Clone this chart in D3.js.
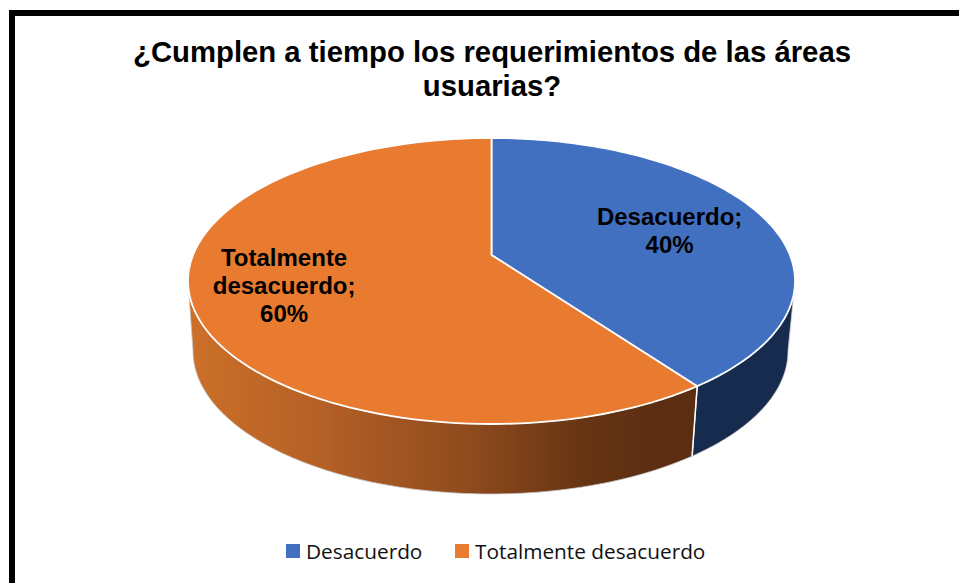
<!DOCTYPE html>
<html><head><meta charset="utf-8">
<style>html,body{margin:0;padding:0;background:#fff;overflow:hidden}svg{display:block}</style>
<script src="https://cdn.jsdelivr.net/npm/d3@7/dist/d3.min.js"></script>
</head><body>
<svg id="c" width="959" height="583"></svg>
<script>
const categories = ["Desacuerdo", "Totalmente desacuerdo"];
const values = [40, 60];
const labelLines = [["Desacuerdo;", "40%"], ["Totalmente", "desacuerdo;", "60%"]];
const titleLines = ["¿Cumplen a tiempo los requerimientos de las áreas", "usuarias?"];
const topColors = ["#4270c1", "#e97b30"];

const svg = d3.select("#c");
const W = 959, H = 583;
svg.append("rect").attr("width", W).attr("height", H).attr("fill", "#fff");
// frame (open at right and bottom edges of the crop)
svg.append("rect").attr("x", 12).attr("y", 13).attr("width", W + 20).attr("height", H + 20)
  .attr("fill", "none").attr("stroke", "#000").attr("stroke-width", 6);

// title
svg.append("g").selectAll("text").data(titleLines).join("text")
  .attr("x", 492).attr("y", (d, i) => 62 + i * 33.5)
  .attr("text-anchor", "middle")
  .attr("font-family", "'Liberation Sans', Arial, sans-serif")
  .attr("font-weight", "bold").attr("font-size", 29.3).attr("fill", "#000")
  .text(d => d);

// perspective projection of the pie disc
const k = 0.182, s = Math.sqrt(1 - k * k);
const xTop = d3.scaleLinear().domain([-1, 1]).range([188, 795]);
const yTop = d3.scaleLinear().domain([-1, 1]).range([424, 138]);
const xBot = d3.scaleLinear().domain([-1, 1]).range([193, 788]);
const yBot = d3.scaleLinear().domain([-1, 1]).range([494, 208]);
function proj(theta, r = 1) {
  const X = r * Math.sin(theta), Y = r * Math.cos(theta), den = 1 + k * Y;
  return [s * X / den, (Y + k) / den];
}
const onTop = (t, r = 1) => { const p = proj(t, r); return [xTop(p[0]), yTop(p[1])]; };
const onBot = (t) => { const p = proj(t); return [xBot(p[0]), yBot(p[1])]; };

const arcs = d3.pie().sort(null)(values);
const line = d3.line();
const samples = (a, b) => d3.range(0, 121).map(i => a + (b - a) * i / 120);

// silhouette angles: where the projected rim reaches its extreme x
const all = d3.range(0, 1441).map(i => i / 1440 * 2 * Math.PI);
const thR = all[d3.greatestIndex(all, t => proj(t)[0])];
const thL = all[d3.leastIndex(all, t => proj(t)[0])];

// gradient for the orange wall
const defs = svg.append("defs");
const grad = defs.append("linearGradient").attr("id", "wall")
  .attr("gradientUnits", "userSpaceOnUse").attr("x1", 190).attr("x2", 650).attr("y1", 0).attr("y2", 0);
[[0, "#cc7029"], [0.3, "#b35f26"], [0.6, "#8f4b1d"], [0.85, "#683514"], [1, "#5c2e11"]]
  .forEach(([o, c]) => grad.append("stop").attr("offset", o).attr("stop-color", c));
const wallFill = ["#172b4f", "url(#wall)"];

// walls
const walls = svg.append("g");
arcs.forEach((a, i) => {
  const from = Math.max(a.startAngle, thR), to = Math.min(a.endAngle, thL);
  if (to <= from) return;
  const pts = samples(from, to).map(t => onTop(t)).concat(samples(to, from).map(onBot));
  walls.append("path").attr("d", line(pts) + "Z").attr("fill", wallFill[i])
    .attr("stroke", "#c9c9c9").attr("stroke-width", 0.8);
});
// divider on the wall
arcs.forEach(a => {
  if (a.endAngle > thR && a.endAngle < thL) {
    walls.append("path").attr("d", line([onTop(a.endAngle), onBot(a.endAngle)]))
      .attr("stroke", "#fff").attr("stroke-width", 1.5).attr("fill", "none");
  }
});

// top face
svg.append("g").selectAll("path").data(arcs).join("path")
  .attr("d", a => line([onTop(0, 0)].concat(samples(a.startAngle, a.endAngle).map(t => onTop(t)))) + "Z")
  .attr("fill", (a, i) => topColors[i])
  .attr("stroke", "#fff").attr("stroke-width", 1.8).attr("stroke-linejoin", "round");

// data labels
const labelR = [0.66, 0.71];
const labelNudge = [[-2.5, 3], [2.5, -1]];
const lab = svg.append("g");
arcs.forEach((a, i) => {
  const c = onTop((a.startAngle + a.endAngle) / 2, labelR[i]);
  const lh = 27.7, lines = labelLines[i];
  lab.selectAll(null).data(lines).join("text")
    .attr("x", c[0] + labelNudge[i][0])
    .attr("y", (d, j) => c[1] + labelNudge[i][1] + (j - (lines.length - 1) / 2) * lh + 8.5)
    .attr("text-anchor", "middle")
    .attr("font-family", "'Liberation Sans', Arial, sans-serif")
    .attr("font-weight", "bold").attr("font-size", 24).attr("fill", "#000")
    .text(d => d);
});

// legend
const legendX = [286, 455];
const leg = svg.append("g");
categories.forEach((c, i) => {
  leg.append("rect").attr("x", legendX[i]).attr("y", 544).attr("width", 14).attr("height", 14).attr("fill", topColors[i]);
  leg.append("text").attr("x", legendX[i] + 20).attr("y", 559)
    .attr("font-family", "'Open Sans', sans-serif").attr("font-size", 20.8).attr("fill", "#111")
    .text(c);
});
</script>
</body></html>
